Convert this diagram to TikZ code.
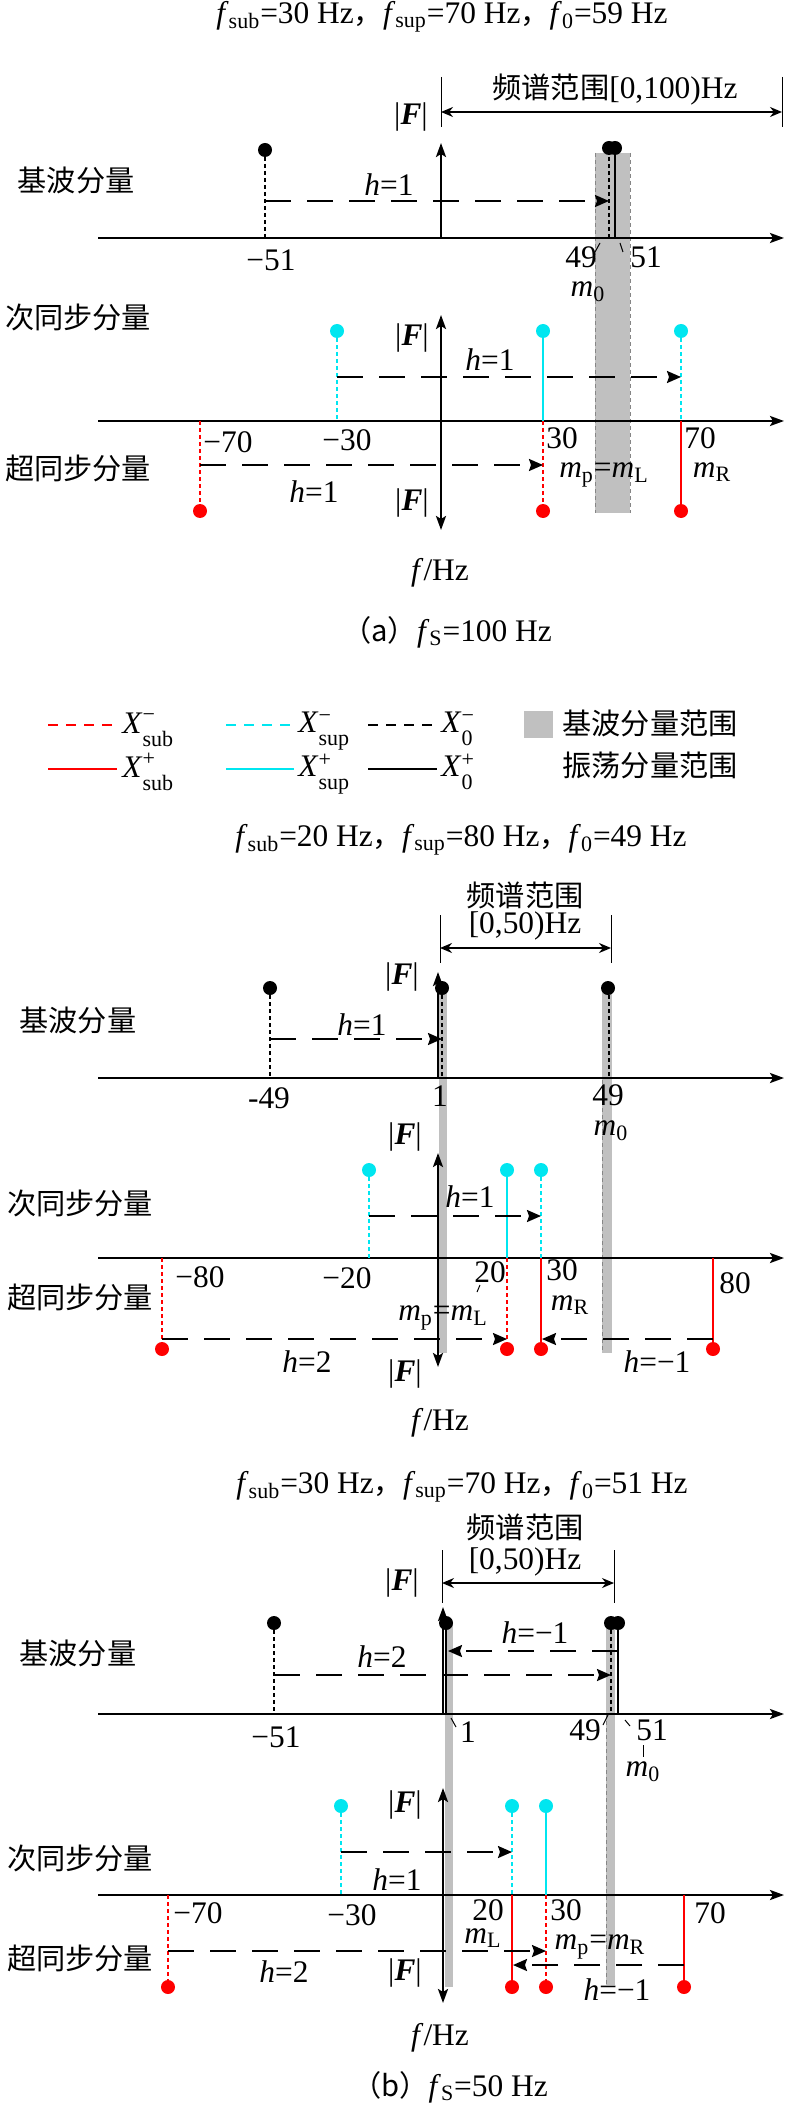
\documentclass[tikz,border=0pt]{standalone}
\usepackage{fontspec}
\setmainfont{Liberation Serif}
\newfontfamily\cjkfam{Noto Sans CJK SC}
\newcommand{\cjk}{\cjkfam\fontsize{14.6}{16}\selectfont}
\usetikzlibrary{arrows.meta}
\definecolor{bandgray}{RGB}{192,192,192}
\definecolor{supcyan}{RGB}{0,230,240}
\definecolor{subred}{RGB}{255,0,0}
\newcommand{\vF}{|\textbf{\textit{F}}|}
\newcommand{\vm}[1]{\textit{m}\textsubscript{#1}}
\newcommand{\vf}[1]{\textit{f}\textsubscript{#1}}
\newcommand{\vX}[2]{\textit{X}\raisebox{-0.9ex}{\fontsize{11}{10}\selectfont\begin{tabular}[b]{@{}l@{}}#1\\[1.5pt]#2\end{tabular}}}

\begin{document}
\begin{tikzpicture}[x=0.5pt, y=-0.5pt,
    every node/.style={font=\fontsize{15.7}{18}\selectfont, inner sep=1pt},
    axis/.style={line width=1.2pt, -{Stealth[length=7pt,width=5pt,inset=1.5pt]}},
    axisboth/.style={line width=1.2pt, {Stealth[length=7pt,width=5pt,inset=1.5pt]}-{Stealth[length=7pt,width=5pt,inset=1.5pt]}},
    negstem/.style={line width=0.7pt, dash pattern=on 2pt off 1.5pt},
    posstem/.style={line width=0.8pt},
    legdash/.style={line width=0.8pt, dash pattern=on 5pt off 4pt},
    shiftarrow/.style={line width=1pt, dash pattern=on 13pt off 8pt, -{Stealth[length=7pt,width=6pt,inset=1pt]}},
    rangearrow/.style={line width=0.8pt, {Stealth[length=6pt,width=5pt]}-{Stealth[length=6pt,width=5pt]}},
    tickline/.style={line width=0.5pt},
    band/.style={fill=bandgray},
    bandedge/.style={bandgray!70!black, line width=0.5pt, dash pattern=on 2pt off 1.5pt},
    lead/.style={line width=0.5pt}]

    \useasboundingbox (0,0) rectangle (788,2107);

    % --- (a) fS = 100 Hz ---
    \node (ttlA) at (442,17) {\vf{sub}=30 Hz{\cjk ，}\vf{sup}=70 Hz{\cjk ，}\vf{0}=59 Hz};

    \fill[band] (595,153) rectangle (630,513);
    \draw[bandedge] (595,153) -- (595,513);
    \draw[bandedge] (630,153) -- (630,513);

    \draw[tickline] (441,77) -- (441,127);
    \draw[tickline] (782,77) -- (782,127);
    \draw[rangearrow] (441,112) -- (782,112);
    \node (rngA) at (615,90) {{\cjk 频谱范围}[0,100)Hz};

    % fundamental
    \draw[axis] (98,238) -- (784,238);
    \draw[axis] (441,238) -- (441,143);
    \node (FA1) at (411,117) {\vF};
    \node (lbA1) at (76,180) {\cjk 基波分量};
    \draw[negstem] (265,150) -- (265,238);
    \draw[negstem] (609,150) -- (609,238);
    \draw[posstem] (615,150) -- (615,238);
    \fill (265,150) circle (3.5pt);
    \fill (609,148) circle (3.5pt);
    \fill (615,148) circle (3.5pt);
    \draw[shiftarrow] (265,201) -- (609,201);
    \node (hA1) at (389,185) {\textit{h}=1};
    \node (tA1) at (271,260) {−51};
    \node (tA2) at (581,257) {49};
    \node (tA3) at (646,257) {51};
    \draw[lead] (595,252) -- (600,243);
    \draw[lead] (620,243) -- (623,252);
    \node (mA0) at (588,292) {\vm{0}};

    % sub- and super-synchronous
    \draw[axis] (98,421) -- (784,421);
    \draw[axisboth] (441,315) -- (441,530);
    \node (FA2) at (412,338) {\vF};
    \node (FA3) at (412,503) {\vF};
    \node (lbA2) at (78,317) {\cjk 次同步分量};
    \node (lbA3) at (78,468) {\cjk 超同步分量};
    \draw[negstem, supcyan] (337,331) -- (337,421);
    \draw[posstem, supcyan] (543,331) -- (543,421);
    \draw[negstem, supcyan] (681,331) -- (681,421);
    \draw[negstem, subred] (200,421) -- (200,511);
    \draw[negstem, subred] (543,421) -- (543,511);
    \draw[posstem, subred] (681,421) -- (681,511);
    \foreach \x in {337,543,681} \fill[supcyan] (\x,331) circle (3.5pt);
    \foreach \x in {200,543,681} \fill[subred] (\x,511) circle (3.5pt);
    \draw[shiftarrow] (337,377) -- (681,377);
    \draw[shiftarrow] (200,465) -- (543,465);
    \node (hA2) at (490,360) {\textit{h}=1};
    \node (hA3) at (314,492) {\textit{h}=1};
    \node (tA4) at (228,442) {−70};
    \node (tA5) at (347,440) {−30};
    \node (tA6) at (562,438) {30};
    \node (tA7) at (700,438) {70};
    \node (mA1) at (604,475) {\vm{p}=\vm{L}};
    \node (mA2) at (712,472) {\vm{R}};
    \node (fA) at (440,573) {\textit{f}/Hz};
    \node (capA) at (447,632) {{\cjk （a）}\vf{S}=100 Hz};

    % --- legend ---
    \draw[legdash, subred] (48,725) -- (117,725);
    \draw[legdash, supcyan] (226,725) -- (294,725);
    \draw[legdash] (368,725) -- (437,725);
    \draw[posstem, subred] (48,769) -- (117,769);
    \draw[posstem, supcyan] (226,769) -- (294,769);
    \draw[posstem] (368,769) -- (437,769);
    \node[anchor=west] (lg1) at (120,730) {\vX{−}{sub}};
    \node[anchor=west] (lg2) at (296,730) {\vX{−}{sup}};
    \node[anchor=west] (lg3) at (439,730) {\vX{−}{0}};
    \node[anchor=west] (lg4) at (120,774) {\vX{+}{sub}};
    \node[anchor=west] (lg5) at (296,774) {\vX{+}{sup}};
    \node[anchor=west] (lg6) at (439,774) {\vX{+}{0}};
    \fill[band] (524,711) rectangle (553,738);
    \node[anchor=west] (lg7) at (560,723) {\cjk 基波分量范围};
    \node[anchor=west] (lg8) at (560,765) {\cjk 振荡分量范围};

    % --- (b) fsub = 20 Hz ---
    \node (ttlB) at (461,840) {\vf{sub}=20 Hz{\cjk ，}\vf{sup}=80 Hz{\cjk ，}\vf{0}=49 Hz};

    \fill[band] (439,990) rectangle (447,1353);
    \fill[band] (602,990) rectangle (612,1353);
    \draw[bandedge] (602,1080) -- (602,1353);

    \draw[tickline] (440,915) -- (440,963);
    \draw[tickline] (611,915) -- (611,963);
    \draw[rangearrow] (440,948) -- (611,948);
    \node (rngB1) at (525,895) {\cjk 频谱范围};
    \node (rngB2) at (525,926) {[0,50)Hz};

    % fundamental
    \draw[axis] (98,1078) -- (784,1078);
    \draw[axis] (438,1078) -- (438,972);
    \node (FB1) at (402,977) {\vF};
    \node (lbB1) at (78,1020) {\cjk 基波分量};
    \draw[negstem] (270,988) -- (270,1078);
    \draw[negstem] (442,988) -- (442,1078);
    \draw[negstem] (609,988) -- (609,1078);
    \foreach \x in {270,442,608} \fill (\x,988) circle (3.5pt);
    \draw[shiftarrow] (270,1039) -- (442,1039);
    \node (hB1) at (362,1025) {\textit{h}=1};
    \node (tB1) at (269,1098) {-49};
    \node (tB2) at (440,1096) {1};
    \node (tB3) at (608,1095) {49};
    \node (mB0) at (611,1131) {\vm{0}};

    % sub- and super-synchronous
    \draw[axis] (98,1258) -- (784,1258);
    \draw[axisboth] (438,1153) -- (438,1367);
    \node (FB2) at (405,1137) {\vF};
    \node (FB3) at (405,1374) {\vF};
    \node (lbB2) at (80,1203) {\cjk 次同步分量};
    \node (lbB3) at (80,1297) {\cjk 超同步分量};
    \draw[negstem, supcyan] (369,1170) -- (369,1258);
    \draw[posstem, supcyan] (507,1170) -- (507,1258);
    \draw[negstem, supcyan] (541,1170) -- (541,1258);
    \draw[negstem, subred] (162,1258) -- (162,1349);
    \draw[negstem, subred] (507,1258) -- (507,1349);
    \draw[posstem, subred] (541,1258) -- (541,1349);
    \draw[posstem, subred] (713,1258) -- (713,1349);
    \foreach \x in {369,507,541} \fill[supcyan] (\x,1170) circle (3.5pt);
    \foreach \x in {162,507,541,713} \fill[subred] (\x,1349) circle (3.5pt);
    \draw[shiftarrow] (369,1216) -- (541,1216);
    \draw[shiftarrow] (162,1339) -- (507,1339);
    \draw[shiftarrow] (713,1339) -- (542,1339);
    \node (hB2) at (470,1197) {\textit{h}=1};
    \node (hB3) at (307,1362) {\textit{h}=2};
    \node (hB4) at (657,1362) {\textit{h}=−1};
    \node (tB4) at (200,1277) {−80};
    \node (tB5) at (347,1278) {−20};
    \node (tB6) at (490,1272) {20};
    \node (tB7) at (562,1270) {30};
    \node (tB8) at (735,1283) {80};
    \draw[lead] (477,1292) -- (480,1285);
    \node (mB1) at (443,1318) {\vm{p}=\vm{L}};
    \node (mB2) at (570,1305) {\vm{R}};
    \node (fB) at (440,1423) {\textit{f}/Hz};

    % --- (b) fsub = 30 Hz ---
    \node (ttlC) at (462,1487) {\vf{sub}=30 Hz{\cjk ，}\vf{sup}=70 Hz{\cjk ，}\vf{0}=51 Hz};

    \fill[band] (445,1623) rectangle (453,1987);
    \fill[band] (606,1623) rectangle (615,1985);
    \draw[bandedge] (606,1714) -- (606,1985);

    \draw[tickline] (442,1550) -- (442,1603);
    \draw[tickline] (614,1550) -- (614,1603);
    \draw[rangearrow] (442,1583) -- (614,1583);
    \node (rngC1) at (525,1527) {\cjk 频谱范围};
    \node (rngC2) at (525,1562) {[0,50)Hz};

    % fundamental
    \draw[axis] (98,1714) -- (784,1714);
    \draw[axis] (443,1714) -- (443,1607);
    \node (FC1) at (402,1583) {\vF};
    \node (lbC1) at (78,1653) {\cjk 基波分量};
    \draw[negstem] (274,1623) -- (274,1714);
    \draw[posstem] (446,1623) -- (446,1714);
    \draw[negstem] (611,1623) -- (611,1714);
    \draw[posstem] (618,1623) -- (618,1714);
    \foreach \x in {274,446,611,618} \fill (\x,1623) circle (3.5pt);
    \draw[shiftarrow] (618,1651) -- (448,1651);
    \draw[shiftarrow] (274,1675) -- (611,1675);
    \node (hC1) at (535,1633) {\textit{h}=−1};
    \node (hC2) at (382,1657) {\textit{h}=2};
    \node (tC1) at (276,1737) {−51};
    \node (tC2) at (468,1732) {1};
    \node (tC3) at (585,1730) {49};
    \node (tC4) at (652,1730) {51};
    \draw[lead] (451,1718) -- (456,1727);
    \draw[lead] (603,1725) -- (608,1715);
    \draw[lead] (625,1720) -- (630,1726);
    \draw[lead] (643,1745) -- (643,1757);
    \node (mC0) at (643,1772) {\vm{0}};

    % sub- and super-synchronous
    \draw[axis] (98,1895) -- (784,1895);
    \draw[axisboth] (443,1788) -- (443,2003);
    \node (FC2) at (405,1805) {\vF};
    \node (FC3) at (405,1973) {\vF};
    \node (lbC2) at (80,1858) {\cjk 次同步分量};
    \node (lbC3) at (80,1958) {\cjk 超同步分量};
    \draw[negstem, supcyan] (341,1806) -- (341,1895);
    \draw[negstem, supcyan] (512,1806) -- (512,1895);
    \draw[posstem, supcyan] (546,1806) -- (546,1895);
    \draw[negstem, subred] (168,1895) -- (168,1987);
    \draw[posstem, subred] (512,1895) -- (512,1987);
    \draw[negstem, subred] (546,1895) -- (546,1987);
    \draw[posstem, subred] (684,1895) -- (684,1987);
    \foreach \x in {341,512,546} \fill[supcyan] (\x,1806) circle (3.5pt);
    \foreach \x in {168,512,546,684} \fill[subred] (\x,1987) circle (3.5pt);
    \draw[shiftarrow] (341,1852) -- (512,1852);
    \draw[shiftarrow] (168,1951) -- (546,1951);
    \draw[shiftarrow] (684,1965) -- (513,1965);
    \node (hC3) at (397,1880) {\textit{h}=1};
    \node (hC4) at (284,1972) {\textit{h}=2};
    \node (hC5) at (617,1990) {\textit{h}=−1};
    \node (tC5) at (198,1913) {−70};
    \node (tC6) at (352,1915) {−30};
    \node (tC7) at (488,1910) {20};
    \node (tC8) at (566,1910) {30};
    \node (tC9) at (710,1913) {70};
    \node (mC1) at (483,1938) {\vm{L}};
    \node (mC2) at (600,1947) {\vm{p}=\vm{R}};
    \node (fC) at (440,2038) {\textit{f}/Hz};
    \node (capB) at (450,2087) {{\cjk （b）}\vf{S}=50 Hz};

\end{tikzpicture}
\end{document}
